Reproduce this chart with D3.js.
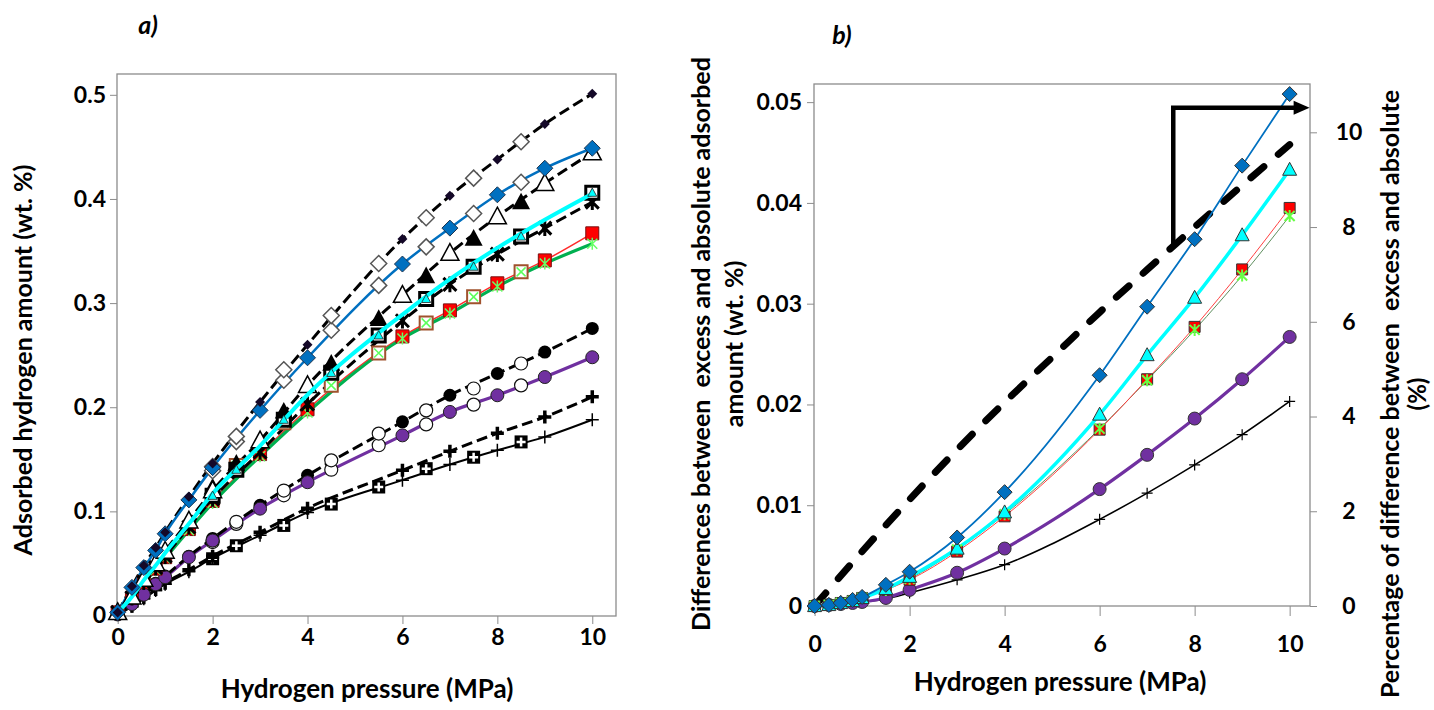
<!DOCTYPE html>
<html><head><meta charset="utf-8">
<script src="https://cdn.jsdelivr.net/npm/d3@7/dist/d3.min.js"></script>
<style>
body{margin:0;background:#fff;}
text{font-family:Lato,"Open Sans",sans-serif;font-weight:700;fill:#000;}
</style></head>
<body><svg id="c" width="1434" height="710"></svg>
<script>
// ---------- DATA ----------
const pModel = [0, 0.3, 0.55, 0.8, 1, 1.5, 2, 3, 4, 6, 7, 8, 9, 10];
const pHalf  = [2, 2.5, 3.5, 4.5, 5.5, 6.5, 7.5, 8.5];
const pCyanPts = [2, 2.5, 3.5, 4.5, 5.5, 6.5, 7.5, 8.5, 10];
const xTicks = [0, 2, 4, 6, 8, 10];
const aYTicks = [0, 0.1, 0.2, 0.3, 0.4, 0.5];
const bYTicks = [0, 0.01, 0.02, 0.03, 0.04, 0.05];
const bRTicks = [0, 2, 4, 6, 8, 10];

// panel a (wt.%)
const aBlueAbs   = [0.003,0.028,0.048,0.065,0.080,0.114,0.146,0.205,0.260,0.3615,0.403,0.438,0.472,0.501];
const aBlueAbsEx = [0.143,0.172,0.236,0.288,0.338,0.382,0.420,0.455];
const aBlue      = [0.003,0.027,0.046,0.0625,0.0785,0.111,0.142,0.197,0.2475,0.3375,0.372,0.404,0.4295,0.4487];
const aBlueEx    = [0.139,0.167,0.226,0.274,0.317,0.354,0.386,0.416];
const aCyanAbs   = [0.003,0.018,0.035,0.050,0.062,0.091,0.120,0.168,0.221,0.3077,0.348,0.383,0.415,0.4445];
const aCyanAbsEx = [0.123,0.146,0.196,0.242,0.285,0.326,0.362,0.397];
const aCyan      = [0.003,0.018,0.034,0.048,0.060,0.088,0.117,0.163,0.212,0.289,0.323,0.353,0.380,0.405];
const aCyanEx    = [0.115,0.140,0.188,0.233,0.269,0.304,0.335,0.364,0.406];
const aGreenAbs  = [0.003,0.017,0.032,0.046,0.057,0.085,0.112,0.157,0.203,0.283,0.318,0.347,0.372,0.397];
const aRed       = [0.003,0.017,0.032,0.045,0.056,0.083,0.110,0.155,0.198,0.268,0.293,0.319,0.341,0.367];
const aRedEx     = [0.113,0.144,0.185,0.221,0.252,0.281,0.306,0.330];
const aGreen     = [0.003,0.017,0.031,0.044,0.055,0.082,0.108,0.153,0.195,0.266,0.290,0.316,0.338,0.357];
const aPurpleAbs = [0.001,0.011,0.021,0.031,0.038,0.057,0.074,0.1058,0.1346,0.186,0.2115,0.2324,0.253,0.2757];
const aPurpleAbsEx=[0.072,0.090,0.120,0.149,0.1747,0.197,0.218,0.242];
const aPurple    = [0.001,0.011,0.020,0.030,0.0368,0.056,0.072,0.1026,0.128,0.173,0.1955,0.2115,0.229,0.248];
const aPurpleEx  = [0.0705,0.088,0.1154,0.140,0.1635,0.1835,0.2025,0.221];
const aPlusAbs   = [0.001,0.009,0.017,0.025,0.031,0.044,0.057,0.080,0.103,0.1394,0.1577,0.175,0.1907,0.210];
const aPlus      = [0.001,0.009,0.016,0.024,0.030,0.042,0.055,0.077,0.099,0.130,0.145,0.1587,0.1715,0.188];
const aPlusEx    = [0.0545,0.067,0.0865,0.107,0.1234,0.141,0.152,0.1667];

// panel b (wt.% difference)
const bBlue   = [0,0.0001,0.0003,0.0006,0.0009,0.0021,0.0034,0.0068,0.0113,0.0229,0.0297,0.0364,0.0437,0.0508];
const bCyan   = [0,0.0001,0.0003,0.0005,0.0008,0.0017,0.0029,0.0057,0.0093,0.0190,0.0249,0.0306,0.0368,0.0433];
const bRed    = [0,0.0001,0.0003,0.0005,0.0008,0.0016,0.0026,0.0054,0.0089,0.0175,0.0225,0.0277,0.0334,0.0395];
const bGreen  = [0,0.0001,0.0003,0.0005,0.0008,0.0016,0.0027,0.0056,0.0091,0.0176,0.0224,0.0274,0.0328,0.0387];
const bPurple = [0,0.0001,0.0002,0.0003,0.0004,0.0008,0.0016,0.0033,0.0057,0.0116,0.0150,0.0186,0.0225,0.0267];
const bPlus   = [0,0.0001,0.0002,0.0003,0.0004,0.0007,0.0013,0.0026,0.0041,0.0086,0.0112,0.0140,0.0170,0.0203];
// percentage (right axis)
const pPct    = [0, 1, 2, 3, 4, 5, 6, 7, 8, 9, 10];
const bPct    = [0, 1.15, 2.25, 3.3, 4.3, 5.25, 6.2, 7.1, 8.0, 8.88, 9.74];
const arrowPts = [[7.55, 7.62], [7.55, 10.52], [10.42, 10.52]];

// ---------- HELPERS ----------
const svg = d3.select("#c");
const zip = (xs, ys) => xs.map((x, i) => [x, ys[i]]);
const TICK_FS = 23, TITLE_FS = 25;
const shapes = {
  diamond: s => `M0,${-s}L${s},0L0,${s}L${-s},0Z`,
  square:  s => `M${-s},${-s}H${s}V${s}H${-s}Z`,
  tri:     s => `M0,${-s*1.05}L${s},${s*0.8}L${-s},${s*0.8}Z`,
  circle:  s => `M${s},0A${s},${s} 0 1,1 ${-s},0A${s},${s} 0 1,1 ${s},0Z`,
  plus:    s => `M${-s},0H${s}M0,${-s}V${s}`,
  star:    s => `M${-s},${-s}L${s},${s}M${-s},${s}L${s},${-s}M0,${-s*1.2}V${s*1.2}`,
  xcross:  s => `M${-s},${-s}L${s},${s}M${-s},${s}L${s},${-s}`
};
function drawLine(g, x, y, pts, st) {
  g.append("path").datum(pts)
    .attr("d", d3.line().x(d => x(d[0])).y(d => y(d[1])).curve(d3.curveMonotoneX))
    .attr("fill", "none").attr("stroke", st.c).attr("stroke-width", st.w)
    .attr("stroke-dasharray", st.dash || null).attr("stroke-linecap", st.cap || "butt");
}
function drawMarks(g, x, y, pts, m) {
  (Array.isArray(m) ? m : [m]).forEach(mm => {
    g.append("g").selectAll("path").data(pts).join("path")
      .attr("transform", d => `translate(${x(d[0])},${y(d[1])})`)
      .attr("d", shapes[mm.shape](mm.s))
      .attr("fill", mm.fill || "none").attr("stroke", mm.stroke || "none")
      .attr("stroke-width", mm.sw || 1);
  });
}
function frame(g, x0, x1, y0, y1) {
  g.append("rect").attr("x", x0).attr("y", y1).attr("width", x1 - x0).attr("height", y0 - y1)
    .attr("fill", "none").attr("stroke", "#8c8c8c").attr("stroke-width", 1.3);
}
function styleAxis(g, opts) {
  g.select(".domain").remove();
  g.selectAll("line").attr("stroke", "#8c8c8c");
  const t = g.selectAll("text").attr("font-size", TICK_FS).style("font-family", "Lato").style("font-weight", 700);
  if (opts) opts(t);
}

// ---------- PANEL A ----------
const ax = d3.scaleLinear().domain([0, 10.5]).range([117.7, 616]);
const ay = d3.scaleLinear().domain([0, 0.52]).range([615.5, 74]);
const ga = svg.append("g");
frame(ga, 117, 616, 616, 74);
ga.append("g").attr("transform", "translate(117,0)")
  .call(d3.axisLeft(ay).tickValues(aYTicks).tickSize(7).tickFormat(d => d === 0 ? "0" : d3.format(".1f")(d)))
  .call(g => styleAxis(g, t => t.attr("dx", -1)));
ga.append("g").attr("transform", "translate(0,616)")
  .call(d3.axisBottom(ax).tickValues(xTicks).tickSize(8).tickFormat(d3.format("d")))
  .call(g => styleAxis(g, t => t.attr("dy", "0.8em")));

const dashA = { c: "#000", w: 3, dash: "11,5" };
drawLine(ga, ax, ay, zip(pModel, aPlus), { c: "#000", w: 2 });
drawLine(ga, ax, ay, zip(pModel, aPlusAbs), dashA);
drawLine(ga, ax, ay, zip(pModel, aPurple), { c: "#7030A0", w: 3.2 });
drawLine(ga, ax, ay, zip(pModel, aPurpleAbs), dashA);
drawLine(ga, ax, ay, zip(pModel, aRed), { c: "#ff2a2a", w: 1.5 });
drawLine(ga, ax, ay, zip(pModel, aGreen), { c: "#00B050", w: 3.2 });
drawLine(ga, ax, ay, zip(pModel, aGreenAbs), dashA);
drawLine(ga, ax, ay, zip(pModel, aCyanAbs), dashA);
drawLine(ga, ax, ay, zip(pModel, aBlueAbs), dashA);
drawLine(ga, ax, ay, zip(pModel, aBlue), { c: "#0070C0", w: 2.5 });
drawMarks(ga, ax, ay, zip(pHalf, aPlusEx), [{ shape: "square", s: 6.5, fill: "#000" }, { shape: "plus", s: 4.5, stroke: "#fff", sw: 2.5 }]);
drawMarks(ga, ax, ay, zip(pModel, aPlus), { shape: "plus", s: 6.5, stroke: "#000", sw: 1.5 });
drawMarks(ga, ax, ay, zip(pModel, aPlusAbs), { shape: "plus", s: 6.5, stroke: "#000", sw: 3.5 });
drawMarks(ga, ax, ay, zip(pHalf, aPurpleEx), { shape: "circle", s: 6.5, fill: "#fff", stroke: "#111", sw: 1.2 });
drawMarks(ga, ax, ay, zip(pHalf, aPurpleAbsEx), { shape: "circle", s: 6.5, fill: "#fff", stroke: "#111", sw: 1.2 });
drawMarks(ga, ax, ay, zip(pModel, aPurpleAbs), { shape: "circle", s: 6.5, fill: "#000" });
drawMarks(ga, ax, ay, zip(pModel, aPurple), { shape: "circle", s: 6.5, fill: "#7030A0", stroke: "#222", sw: 1 });
drawMarks(ga, ax, ay, zip(pHalf, aRedEx), [{ shape: "square", s: 6.5, fill: "#fff", stroke: "#A0522D", sw: 2 }, { shape: "xcross", s: 4.5, stroke: "#5cff5c", sw: 1.5 }]);
drawMarks(ga, ax, ay, zip(pModel, aRed), { shape: "square", s: 6.5, fill: "#ff0000", stroke: "#7a1010", sw: 1 });
drawMarks(ga, ax, ay, zip(pModel, aGreen), { shape: "star", s: 5, stroke: "#66ff66", sw: 1.5 });
drawMarks(ga, ax, ay, zip(pModel, aGreenAbs), { shape: "star", s: 6.5, stroke: "#000", sw: 3 });
drawMarks(ga, ax, ay, zip(pCyanPts, aCyanEx), { shape: "square", s: 6.5, fill: "#fff", stroke: "#000", sw: 3 });
drawMarks(ga, ax, ay, zip(pHalf, aCyanAbsEx), { shape: "tri", s: 9, fill: "#000" });
drawMarks(ga, ax, ay, zip(pModel, aCyanAbs), { shape: "tri", s: 9, fill: "#fff", stroke: "#000", sw: 1.5 });
drawLine(ga, ax, ay, zip(pModel, aCyan), { c: "#00FFFF", w: 4 });
drawMarks(ga, ax, ay, zip(pCyanPts, aCyanEx), { shape: "tri", s: 4.5, fill: "#00FFFF", stroke: "#222", sw: 0.8 });
drawMarks(ga, ax, ay, zip(pHalf, aBlueEx), { shape: "diamond", s: 8, fill: "#fff", stroke: "#555", sw: 1.5 });
drawMarks(ga, ax, ay, zip(pHalf, aBlueAbsEx), { shape: "diamond", s: 8, fill: "#fff", stroke: "#555", sw: 1.5 });
drawMarks(ga, ax, ay, zip(pModel, aBlue), { shape: "diamond", s: 8, fill: "#0070C0", stroke: "#1d3550", sw: 1 });
drawMarks(ga, ax, ay, zip(pModel, aBlueAbs), { shape: "diamond", s: 5, fill: "#140828" });

ga.append("text").attr("x", 148).attr("y", 34).attr("text-anchor", "middle").attr("font-size", 25).attr("font-style", "italic").text("a)");
ga.append("text").attr("x", 367).attr("y", 698).attr("text-anchor", "middle").attr("font-size", 26).text("Hydrogen pressure (MPa)");
ga.append("text").attr("transform", "translate(32,360) rotate(-90)").attr("text-anchor", "middle").attr("font-size", TITLE_FS).text("Adsorbed hydrogen amount (wt. %)");

// ---------- PANEL B ----------
const bx = d3.scaleLinear().domain([0, 10.42]).range([814.6, 1309.6]);
const by = d3.scaleLinear().domain([0, 0.0518]).range([606, 84]);
const byR = d3.scaleLinear().domain([0, 11.02]).range([606, 84]);
const gb = svg.append("g");
frame(gb, 814, 1310, 606, 84);
gb.append("g").attr("transform", "translate(814,0)")
  .call(d3.axisLeft(by).tickValues(bYTicks).tickSize(7).tickFormat(d => d === 0 ? "0" : d3.format(".2f")(d)))
  .call(g => styleAxis(g, t => t.attr("dx", -2)));
gb.append("g").attr("transform", "translate(1310,0)")
  .call(d3.axisRight(byR).tickValues(bRTicks).tickSize(7).tickFormat(d3.format("d")))
  .call(g => styleAxis(g, t => t.attr("x", 39).attr("text-anchor", "middle")));
gb.append("g").attr("transform", "translate(0,606)")
  .call(d3.axisBottom(bx).tickValues(xTicks).tickSize(10).tickFormat(d3.format("d")))
  .call(g => styleAxis(g, t => t.attr("dy", "1.45em")));

drawLine(gb, bx, byR, zip(pPct, bPct), { c: "#000", w: 7, dash: "17,19", cap: "round" });
drawLine(gb, bx, by, zip(pModel, bPlus), { c: "#000", w: 1.6 });
drawLine(gb, bx, by, zip(pModel, bPurple), { c: "#7030A0", w: 3.2 });
drawLine(gb, bx, by, zip(pModel, bGreen), { c: "#5f8f5f", w: 1 });
drawLine(gb, bx, by, zip(pModel, bRed), { c: "#ff4040", w: 1 });
drawLine(gb, bx, by, zip(pModel, bCyan), { c: "#00FFFF", w: 3.5 });
drawLine(gb, bx, by, zip(pModel, bBlue), { c: "#0070C0", w: 1.8 });
drawMarks(gb, bx, by, zip(pModel, bPlus), { shape: "plus", s: 5.5, stroke: "#000", sw: 1.2 });
drawMarks(gb, bx, by, zip(pModel, bPurple), { shape: "circle", s: 6.5, fill: "#7030A0", stroke: "#333", sw: 1 });
drawMarks(gb, bx, by, zip(pModel, bRed), { shape: "square", s: 5.5, fill: "#ff0000", stroke: "#333", sw: 1 });
drawMarks(gb, bx, by, zip(pModel, bGreen), { shape: "star", s: 5, stroke: "#66ff44", sw: 2 });
drawMarks(gb, bx, by, zip(pModel, bCyan), { shape: "tri", s: 7, fill: "#00FFFF", stroke: "#333", sw: 1 });
drawMarks(gb, bx, by, zip(pModel, bBlue), { shape: "diamond", s: 7.5, fill: "#0070C0", stroke: "#333", sw: 1 });

const ap = arrowPts.map(d => [bx(d[0]), byR(d[1])]);
gb.append("path").attr("d", d3.line()([ap[0], ap[1], [ap[2][0] - 14, ap[2][1]]]))
  .attr("fill", "none").attr("stroke", "#000").attr("stroke-width", 4.5);
gb.append("path").attr("d", `M${ap[2][0]},${ap[2][1]}L${ap[2][0] - 16},${ap[2][1] - 7}L${ap[2][0] - 16},${ap[2][1] + 7}Z`).attr("fill", "#000");

gb.append("text").attr("x", 842).attr("y", 44).attr("text-anchor", "middle").attr("font-size", 25).attr("font-style", "italic").text("b)");
gb.append("text").attr("x", 1060).attr("y", 691).attr("text-anchor", "middle").attr("font-size", 26).text("Hydrogen pressure (MPa)");
gb.append("text").attr("transform", "translate(710,344) rotate(-90)").attr("text-anchor", "middle").attr("font-size", TITLE_FS).attr("xml:space", "preserve").text("Differences between  excess and absolute adsorbed");
gb.append("text").attr("transform", "translate(743,344) rotate(-90)").attr("text-anchor", "middle").attr("font-size", TITLE_FS).text("amount (wt. %)");
gb.append("text").attr("transform", "translate(1399,394) rotate(-90)").attr("text-anchor", "middle").attr("font-size", TITLE_FS).attr("xml:space", "preserve").text("Percentage of difference between  excess and absolute");
gb.append("text").attr("transform", "translate(1426,394) rotate(-90)").attr("text-anchor", "middle").attr("font-size", 24).text("(%)");
</script></body></html>
